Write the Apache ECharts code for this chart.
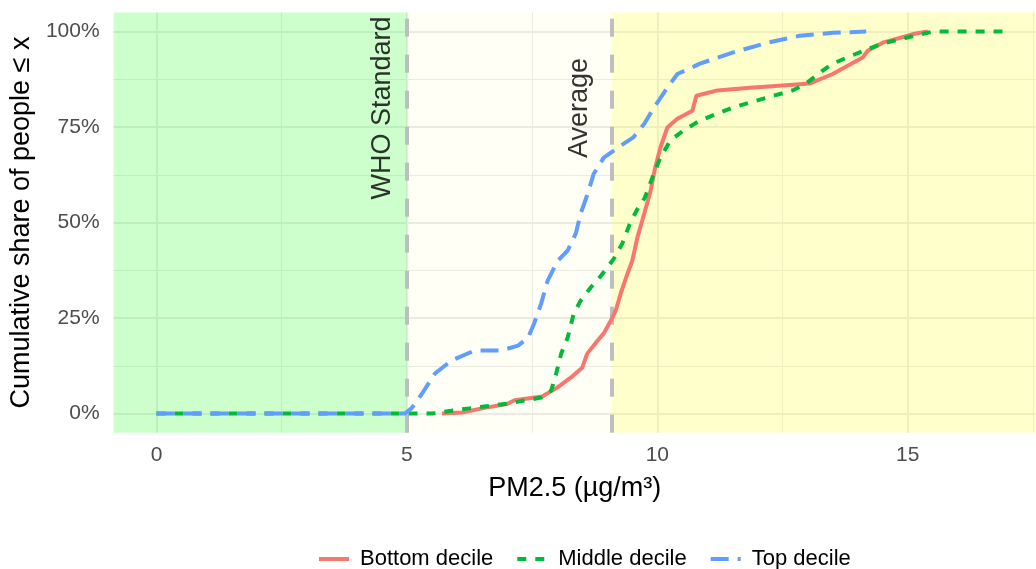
<!DOCTYPE html>
<html>
<head>
<meta charset="utf-8">
<script src="https://cdn.jsdelivr.net/npm/echarts@6/dist/echarts.min.js"></script>
<style>
  html, body { margin: 0; padding: 0; background: #fff; }
  #chart { width: 1036px; height: 569px; }
</style>
</head>
<body>
<div id="chart"></div>
<script>
// ---- data ----
const seriesNames = ['Bottom decile', 'Middle decile', 'Top decile'];

const bottomDecile = [
  [5.7, 0], [6.1, 0.3], [6.55, 1.5], [7.0, 2.5], [7.15, 3.5], [7.7, 4.5], [8.0, 6.8],
  [8.27, 9.4], [8.5, 12], [8.6, 15.7], [8.8, 19], [8.93, 21], [9.07, 24.3], [9.17, 27],
  [9.27, 31.5], [9.4, 36.5], [9.5, 40], [9.6, 46], [9.73, 52], [9.86, 58], [9.95, 64],
  [10.06, 69.6], [10.2, 74.9], [10.4, 77.2], [10.7, 79.3], [10.78, 83.2], [11.2, 84.6],
  [11.85, 85.3], [12.5, 85.9], [13.04, 86.4], [13.5, 88.9], [14.1, 93.2], [14.2, 95],
  [14.5, 97.1], [15.16, 99.5], [15.4, 100]
];

const middleDecile = [
  [0, 0], [5.0, 0], [5.5, 0], [6.2, 1.3], [7.0, 2.6], [7.68, 4.2], [7.88, 6], [7.98, 10.5],
  [8.08, 15.7], [8.21, 19.9], [8.33, 26.2], [8.47, 29.6], [8.67, 33], [8.87, 36],
  [9.13, 40.5], [9.3, 44.5], [9.46, 50], [9.6, 53.5], [9.75, 56.5], [9.93, 62.8],
  [10.06, 67], [10.26, 71.5], [10.52, 74.1], [10.85, 76.7], [11.5, 80.1], [12.18, 82.7],
  [12.7, 84.6], [12.97, 86.4], [13.3, 89.8], [13.5, 91.6], [13.97, 94.2], [14.5, 96.9],
  [15.16, 99], [15.5, 100], [16.89, 100]
];

const topDecile = [
  [0, 0], [4.96, 0], [5.1, 1.5], [5.3, 5.2], [5.56, 10.5], [5.89, 13.9], [6.35, 16.5],
  [6.88, 16.5], [7.22, 17.8], [7.42, 19.9], [7.54, 23.6], [7.68, 28.8], [7.81, 34.8],
  [8.01, 40], [8.21, 42.7], [8.37, 47.1], [8.47, 52.4], [8.61, 57.6], [8.73, 62.8],
  [8.93, 67], [9.21, 69.6], [9.52, 72.3], [9.74, 75.9], [9.93, 80.1], [10.2, 85.3],
  [10.4, 88.9], [10.85, 91.6], [11.5, 94.5], [12.2, 97.1], [12.84, 98.9], [13.5, 99.7],
  [14.17, 100]
];

const whoStandard = 5;
const averagePM = 9.08;
const annotations = [
  { name: 'WHO Standard', value: [whoStandard, 80] },
  { name: 'Average', value: [averagePM, 80] }
];

const xRange = [-0.856, 17.56];
const yRange = [-5, 105];
const xTickLabels = [0, 5, 10, 15];
const yTickLabels = [0, 25, 50, 75, 100];
const xMinorGrid = [2.5, 7.5, 12.5, 17.5];
const yMinorGrid = [12.5, 37.5, 62.5, 87.5];

// ---- chart ----
const FONT = "'Liberation Sans', Arial, sans-serif";
const colors = ['#F8766D', '#00BA38', '#619CFF'];
const chart = echarts.init(document.getElementById('chart'), null, { renderer: 'canvas' });

const gridLines = [].concat(
  xTickLabels.map(v => ({ xAxis: v, lineStyle: { width: 2 } })),
  yTickLabels.map(v => ({ yAxis: v, lineStyle: { width: 2 } })),
  xMinorGrid.map(v => ({ xAxis: v, lineStyle: { width: 1 } })),
  yMinorGrid.map(v => ({ yAxis: v, lineStyle: { width: 1 } }))
);

const option = {
  animation: false,
  textStyle: { fontFamily: FONT },
  grid: { left: 111, right: 0, top: 12.5, bottom: 136.3, containLabel: false },
  xAxis: {
    type: 'value', min: xRange[0], max: xRange[1],
    name: 'PM2.5 (µg/m³)', nameLocation: 'middle', nameGap: 42,
    nameTextStyle: { fontSize: 27, color: '#000', fontFamily: FONT },
    axisLine: { show: false }, axisTick: { show: false }, splitLine: { show: false },
    axisLabel: { customValues: xTickLabels, fontSize: 21, color: '#4D4D4D', margin: 12, fontFamily: FONT }
  },
  yAxis: {
    type: 'value', min: yRange[0], max: yRange[1],
    name: 'Cumulative share of people ≤ x', nameLocation: 'middle', nameGap: 77,
    nameTextStyle: { fontSize: 27, color: '#000', fontFamily: FONT },
    axisLine: { show: false }, axisTick: { show: false }, splitLine: { show: false },
    axisLabel: { customValues: yTickLabels, formatter: '{value}%', fontSize: 21, color: '#4D4D4D', margin: 14, fontFamily: FONT }
  },
  legend: {
    data: seriesNames, left: 312, top: 543, itemWidth: 30, itemHeight: 14, itemGap: 22,
    itemStyle: { opacity: 0 },
    lineStyle: { width: 4 },
    textStyle: { fontSize: 22, color: '#000', fontFamily: FONT, padding: [0, 0, 0, 6] }
  },
  series: [
    {
      name: 'helper', type: 'line', data: [], silent: true,
      markLine: {
        z: 0, silent: true, symbol: ['none', 'none'], label: { show: false },
        lineStyle: { color: '#EBEBEB', type: 'solid' },
        data: gridLines
      },
      markArea: {
        z: 1, silent: true,
        data: [
          [{ xAxis: xRange[0], itemStyle: { color: 'rgba(0,255,0,0.2)' } }, { xAxis: whoStandard }],
          [{ xAxis: whoStandard, itemStyle: { color: 'rgba(255,255,0,0.04)' } }, { xAxis: averagePM }],
          [{ xAxis: averagePM, itemStyle: { color: 'rgba(255,255,0,0.2)' } }, { xAxis: xRange[1] }]
        ]
      }
    },
    {
      name: 'refs', type: 'line', data: [], silent: true,
      markLine: {
        z: 1.5, silent: true, symbol: ['none', 'none'], label: { show: false },
        lineStyle: { color: '#BEBEBE', width: 4, type: [18, 18] },
        data: [{ xAxis: whoStandard }, { xAxis: averagePM }]
      }
    },
    {
      name: seriesNames[0], type: 'line', data: bottomDecile, showSymbol: false, symbol: 'none', z: 2,
      itemStyle: { color: colors[0] },
      lineStyle: { color: colors[0], width: 4, type: 'solid' }
    },
    {
      name: seriesNames[1], type: 'line', data: middleDecile, showSymbol: false, symbol: 'none', z: 2,
      itemStyle: { color: colors[1] },
      lineStyle: { color: colors[1], width: 4, type: [9, 9] }
    },
    {
      name: seriesNames[2], type: 'line', data: topDecile, showSymbol: false, symbol: 'none', z: 2,
      itemStyle: { color: colors[2] },
      lineStyle: { color: colors[2], width: 4, type: [18, 9] }
    },
    {
      name: 'annotations', type: 'scatter', symbolSize: 1, z: 3, silent: true,
      itemStyle: { color: 'rgba(0,0,0,0)' },
      data: annotations.map((a, i) => ({
        name: a.name, value: a.value,
        label: { padding: [0, 0, i === 0 ? 11 : 18, 0] }
      })),
      label: {
        show: true, position: 'inside', formatter: p => p.name, rotate: 90,
        align: 'center', verticalAlign: 'bottom', fontSize: 27, color: '#000', fontFamily: FONT
      }
    }
  ]
};
chart.setOption(option);
</script>
</body>
</html>
